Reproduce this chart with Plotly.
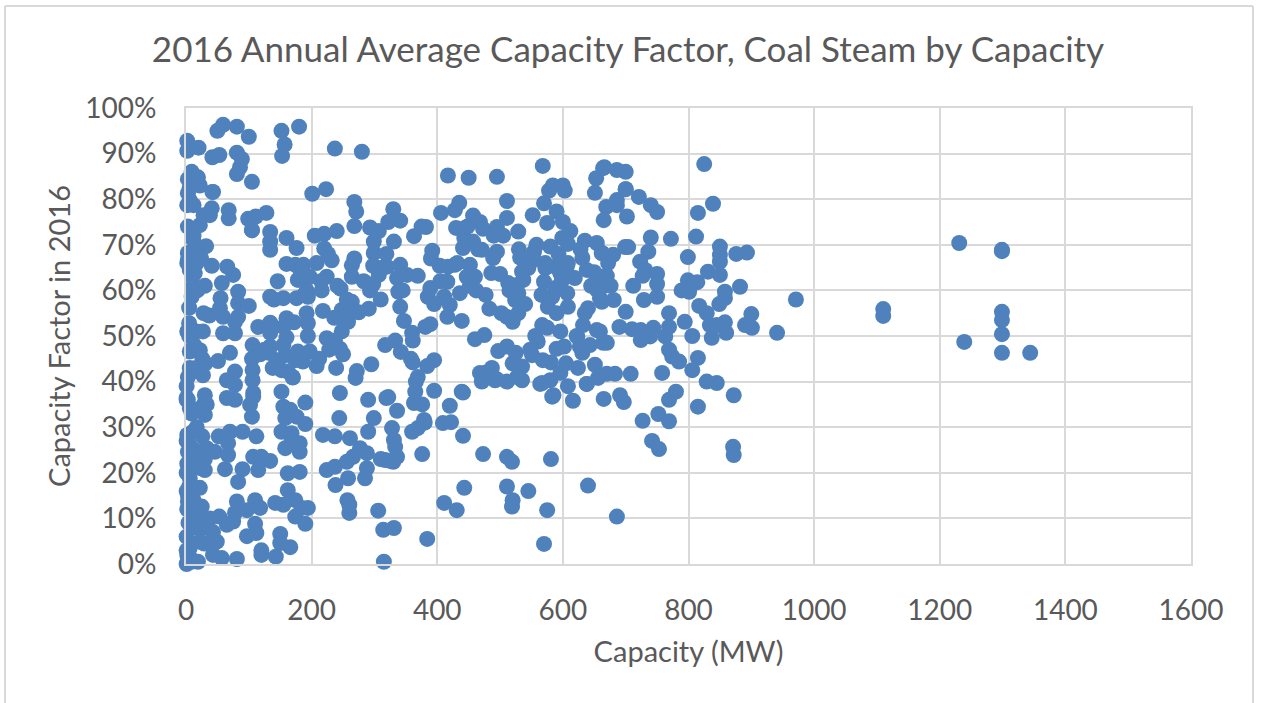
import plotly.graph_objects as go

# Capacity (MW) and capacity factor (%), grouped by capacity band
cap_0_50 = [42,2,2,20,42,9,19,3,22,6,3,6,2,12,43,41,28,38,3,22,10,32,3,17,3,17,6,14,11,9,5,5,2,17,27,41,37,6,22,6,27,1,30,30,6,30,2,17,3,33,46,6,30,6,22,3,25,14,38,19,27,43,33,1,22,49,6,43,1,19,8,4,12,15,24,30,2,10,18,28,5,13,26,1,3,7,16,31,1,9,20,33,3,11,26,1,6,14,30,2,8,24,1,5,1,3,2,12,21,4,16,29,1,2,6,3]
cf_0_50 = [89.2,92.8,90.6,91.3,81.6,86,84.8,84.4,83,82.6,81.3,79.8,78.7,78.7,81.6,78,76.5,76.5,74,74.3,71.4,69.7,68.2,68,66.7,66,64.5,63.8,60.8,58.6,56.2,52.8,51,51,51,65.4,54.5,46.6,46.9,43,41.4,36.4,37,35.4,34.2,32.7,28.3,30,24.6,25.4,24.6,21,20.6,18.8,16.7,13.7,12.6,11.2,10,8.2,7.9,7,8.6,6,4.9,4.9,3.5,2,0,0.5,0.5,1.2,72,70,67,61,66,63,60,55,50,48,45,39,41,42,43,44,36,33,34,35,36,29,28,27,26,25,23,22,23,21,20,17,16,15,12,14,10,9,8,4.5,3,2,1.5,0.8,2,1]
cap_50_100 = [50,59,81,100,53,81,89,86,81,68,68,99,65.6,75,57,83,55,83,100,54,59,83,78,78,59,70,78,65,78,65,78,51,52,70,90,67,67,62,90,83,81,97,78,75,53,65,97,57,81]
cf_50_100 = [95,96.3,95.9,93.7,89.7,90.2,88.8,87,85.5,77.6,75.8,75.7,65.2,63.4,61.6,59.7,58.3,57.2,56.6,56.1,54.2,54.2,53.1,50.6,50.6,46.3,42.2,40.3,39.3,36.4,36,44.5,28,29,29,26.5,23.9,20.8,20.8,18,13.7,11.8,11.2,9.3,10.4,8.6,6.1,1.3,1.1]
cap_100_200 = [105,152,180,157,153,105,128,111,105,134,134,134,160,176,160,174,187,178,197,192,194,134,155,176,192,194,160,155,134,134,160,194,106,105,106,106,107,107,102,105,112,107,120,134,115,162,181,152,190,155,166,158,176,190,152,168,158,181,181,168,162,174,142,110,155,184,194,174,190,118,110,112,150,150,166,120,120,143,132,134,155,158,178,197,152,170,162,186,174,144,125,140,115,138,146,172,188,118,170,183]
cf_100_200 = [83.8,95,95.9,92,89.5,73.2,77,76.2,73.2,72.8,70.7,68.9,71.5,69.3,65.8,65.6,65.6,62.3,63,60,58.6,58.6,58.3,58.3,55,52.8,53.9,52,52.9,50.7,49.7,50,48,45,42.5,40.3,37.5,36.7,34.9,32.3,28,23.5,23.5,22.6,20.6,19.9,20.2,37.8,35.4,34.5,33.8,32,32.3,30.7,29,28.7,25.4,26.5,24.6,26.8,16.2,14,13.4,14,13,12.3,12.3,10.4,8.8,12.3,8.8,6.8,6.6,4.6,3.7,3,2,1.6,46.3,47.7,48,45.8,46.6,46.6,42.5,40.9,42.2,44.4,44.7,44.7,47,58,52,43,62,53,59,46,41,64]
cap_200_300 = [280,237,201,223,268,271,268,220,240,220,232,293,299,299,264,264,298,208,224,216,246,293,264,275,248,261,248,258,248,218,224,245,290,244,299,290,218,237,261,277,288,266,224,237,256,288,258,285,238,295,272,270,245,239,208,260,257,260,237,228,250,215,241,256,283,205,226,268,291,236,212]
cf_200_300 = [90.4,91.1,81.2,82.2,79.4,77.3,74.1,72.4,73,69.2,66.6,73.8,70.7,68.2,65.5,63,65.4,66,63,60,60.4,60,57.5,55.2,55.7,55,53.9,53.1,51,55.5,49.5,37.5,36,32,32,29,28.3,28,27.6,25.4,24.3,23.5,20.6,21.3,22.4,21,18.8,18.8,17.3,43.8,42.3,40.8,47.2,43,43.4,11.2,14,13,49,47,46,62,61,58,62,72,68,67,56,54,45]
cap_300_400 = [307,298,317,307,330,341,322,382,363,331,392,320,341,369,336,352,338,341,347,389,385,381,389,360,361,333,342,361,395,384,369,365,363,376,322,336,379,369,360,328,331,333,336,330,317,376,315,314,331,306,319,310,325,384,317,390,375,310,345,366,380,395,304,319,395,358]
cf_300_400 = [73,61.4,65.2,63.4,77.8,75.3,75,73.9,71.9,70.7,68.7,65.2,65.6,63.2,62.7,63.4,59.7,56.4,53.3,60.5,58.6,52,52.6,50.7,49,49,46.5,44.2,44.7,43.4,41,37.8,35.3,35,36.6,33.6,31.6,29.8,29,29.8,27.2,25.7,23.5,22.4,22.8,24.1,0.5,7.5,7.9,11.7,36.4,23,22.6,5.5,48,67,74,58,60,40,31,38,65,68,57,45]
cap_400_500 = [417,450,495,435,428,406,457,468,473,495,444,430,443,457,441,471,495,489,404,428,417,447,460,452,486,500,411,436,420,416,416,439,477,460,475,497,487,468,471,492,439,441,420,409,422,441,473,443,411,431,495,478,462,432,452,490,405,448,465,483]
cf_400_500 = [85.2,84.7,84.9,79.2,77.6,77,76.4,75,73.5,73.9,73.7,73.7,71.5,70.7,69.3,68.9,68.5,67.1,65.4,65.6,65.2,63,63,65.6,63.8,63.6,58.6,59.4,56.8,61.9,54.2,53.3,59,49.3,50.2,46.7,43,41.9,40,40.3,37.8,37.6,34.7,30.9,31.1,28.1,24.1,16.7,13.4,11.8,40.5,42,60,66,61,72,62,74,69,56]
cap_500_600 = [568,600,584,578,570,552,590,575,600,511,511,529,532,554,554,580,599,596,588,572,545,535,513,537,527,529,524,529,520,511,570,596,588,583,576,567,575,596,560,590,551,568,581,520,535,511,525,527,535,567,580,596,511,511,519,581,511,545,520,519,575,570,564,583,558,593,505,540,515,590,566,548,598,572,530,556,585,502]
cf_500_600 = [87.3,83,83,81.9,79.1,76.5,77.3,74.8,75,79.6,75.9,72.9,67.2,68.5,66.7,69.6,71.5,63.8,65.2,64.9,64.9,64.1,61.6,62.3,61.2,59.4,57.9,55,53.1,54.2,61.9,63.8,60.5,58.6,56.4,52.4,51.8,51,48.8,47.2,45.8,44.7,44.2,44,43.3,47.7,46.3,41,40.3,39.7,40.3,41.9,40,23.5,22.4,23,17,16,14,12.6,11.8,4.4,39.5,36.7,70,68,72,57,60,55,59,47,62,66,69,50,37,55]
cap_600_700 = [664,603,653,651,608,635,654,662,631,608,619,638,664,607,640,659,632,654,623,643,664,627,631,602,624,651,608,638,656,616,608,638,665,640,666,686,700,700,686,686,669,665,662,680,670,662,699,681,662,670,659,683,670,691,697,686,606,645,612,628,650,676,690,605,622,635,655,672]
cf_600_700 = [86.8,81.9,84.6,81.4,70.2,70.9,70.4,68.2,67.1,66,62.7,64.5,63,59.4,56.1,58.3,52.4,51.3,49.9,48,48.5,47.7,46.3,47.7,43,43.7,39,39.5,40.8,35.8,56.4,39.5,36.2,17.2,87,86.4,86,82.2,79.8,78.7,78.3,75.4,68.2,67.8,63.2,60.8,69.5,57.9,57.5,48.5,51,41.7,41.7,37,35.5,10.4,65,61,73,69,64,61,52,44,50,55,60,66]
cap_700_800 = [700,721,740,750,702,740,772,704,736,723,799,731,750,727,750,712,799,789,729,750,700,769,794,769,710,724,744,739,724,763,769,774,785,758,708,780,769,752,727,769,742,753]
cf_700_800 = [82.2,80.5,78.7,77.2,76.2,71.6,71.3,69.5,68.5,66.3,67.3,64.5,63.6,63.2,61.4,61,62.2,60,57.9,58.6,55.3,55,53.1,52,51.5,51.3,51.8,49.9,49.1,49.9,47,45.5,44.4,41.9,41.7,37.8,36,32.9,31.4,31.3,27,25.2]
cap_800_plus = [825,839,815,812,850,850,850,876,893,831,850,814,801,882,858,858,849,817,829,858,834,837,845,860,900,890,901,941,971,806,815,806,829,845,872,815,871,872,1231,1299,1299,1299,1299,1299,1299,1344,1239,1110,1110]
cf_800_plus = [87.7,79,77,71.8,69.6,67.8,66.3,68,68.3,64.1,63.4,61.8,59.7,60.8,59.7,58.3,57,56.6,55,53,52.4,49.6,52.4,50.7,54.8,52.4,51.8,50.7,58,50,45.2,42.5,40,39.7,37,34.5,25.7,23.9,70.4,68.9,68.6,55.3,53.5,50.4,46.3,46.3,48.7,55.9,54.4]

bands = [(cap_0_50, cf_0_50), (cap_50_100, cf_50_100), (cap_100_200, cf_100_200),
         (cap_200_300, cf_200_300), (cap_300_400, cf_300_400), (cap_400_500, cf_400_500),
         (cap_500_600, cf_500_600), (cap_600_700, cf_600_700), (cap_700_800, cf_700_800),
         (cap_800_plus, cf_800_plus)]
capacity_mw, capacity_factor = [], []
for caps, cfs in bands:
    n = min(len(caps), len(cfs))
    capacity_mw += caps[:n]
    capacity_factor += cfs[:n]

FONT = "Lato, Carlito, Calibri, sans-serif"
TXT = "#595959"
GRID = "#d9d9d9"

fig = go.Figure(go.Scatter(
    x=capacity_mw, y=capacity_factor, mode="markers", cliponaxis=False,
    marker=dict(size=16, color="#4f81bd", line=dict(width=0)),
))

axis = dict(showgrid=True, gridcolor=GRID, gridwidth=2, zeroline=False, showline=True,
            linecolor=GRID, linewidth=2, mirror=True, ticks="outside",
            tickcolor="rgba(0,0,0,0)", tickfont=dict(family=FONT, size=28, color=TXT))

fig.update_layout(
    width=1265, height=703, autosize=False, showlegend=False,
    paper_bgcolor="white", plot_bgcolor="white",
    margin=dict(l=186, r=74, t=108, b=139),
    title=dict(text="2016 Annual Average Capacity Factor, Coal Steam by Capacity",
               x=628/1265, xanchor="center", y=1-50/703, yanchor="middle",
               font=dict(family=FONT, size=35, color=TXT)),
    xaxis=dict(axis, range=[0, 1600], dtick=200, ticklen=20,
               title=dict(text="Capacity (MW)", standoff=17,
                          font=dict(family=FONT, size=29, color=TXT))),
    yaxis=dict(axis, range=[0, 100], dtick=10, ticklen=22, ticksuffix="%",
               title=dict(text="Capacity Factor in 2016", standoff=6,
                          font=dict(family=FONT, size=29, color=TXT))),
    shapes=[
        dict(type="line", xref="paper", yref="paper", x0=(5-186)/1005, x1=(5-186)/1005,
             y0=(564-703)/456, y1=(564-6)/456, line=dict(color=GRID, width=2)),
        dict(type="line", xref="paper", yref="paper", x0=(1253-186)/1005, x1=(1253-186)/1005,
             y0=(564-703)/456, y1=(564-6)/456, line=dict(color=GRID, width=2)),
        dict(type="line", xref="paper", yref="paper", x0=(5-186)/1005, x1=(1253-186)/1005,
             y0=(564-6)/456, y1=(564-6)/456, line=dict(color=GRID, width=2)),
    ],
)

fig.write_html("out.html", config={"displayModeBar": False},
               post_script="document.body.style.margin='0';document.body.style.overflow='hidden';")
